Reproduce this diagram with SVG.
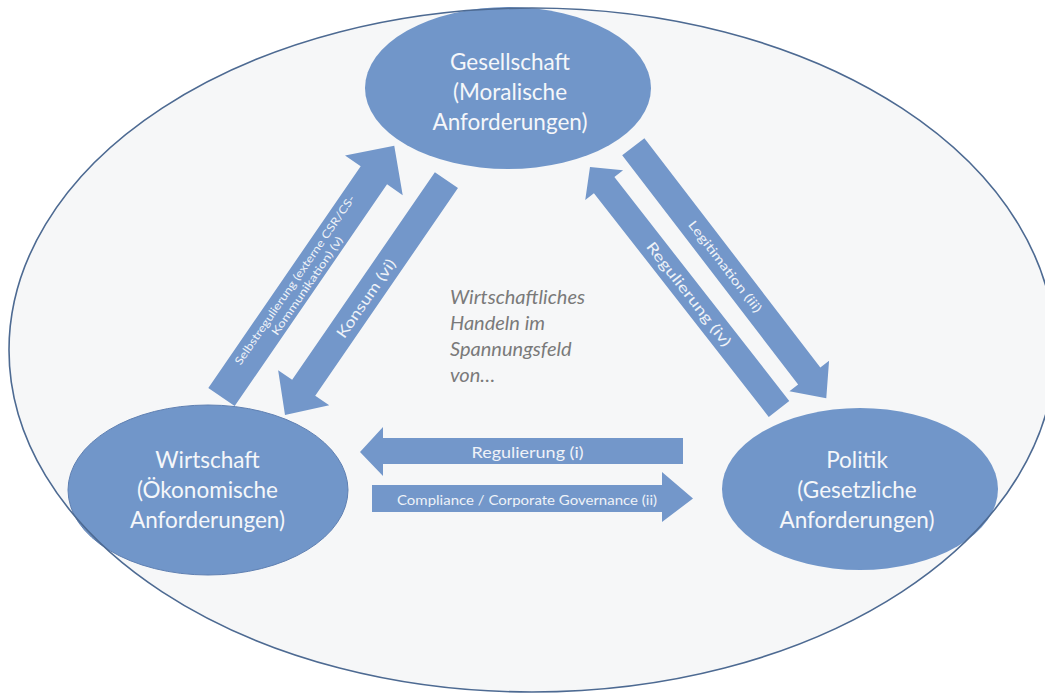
<svg xmlns="http://www.w3.org/2000/svg" width="1045" height="693" viewBox="0 0 1045 693">
  <style>
    .field{fill:#f6f7f8;stroke:none}
    .field-line{fill:none;stroke:#4d6a92;stroke-width:1.6}
    .node{fill:#7196c9}
    .arrow{fill:#7397ca}
    .ntext{font-family:Lato,"Open Sans","Liberation Sans",sans-serif;font-size:22.5px;fill:#f5f7fa;text-anchor:middle}
    .atext{font-family:Lato,"Open Sans","Liberation Sans",sans-serif;fill:#eef2f8;text-anchor:middle}
    .ctext{font-family:Lato,"Open Sans","Liberation Sans",sans-serif;font-style:italic;font-size:20px;fill:#7a7a7a}
  </style>

  <rect width="1045" height="693" fill="#ffffff"/>

  <!-- surrounding field -->
  <g id="field">
    <ellipse class="field" cx="532" cy="350" rx="523" ry="342"/>
  </g>

  <!-- connectors -->
  <g id="connectors">
    <!-- Wirtschaft -> Gesellschaft -->
    <g id="arrow-selbstregulierung" transform="translate(221.5 397) rotate(-55.5)">
      <polygon class="arrow" points="0,-16 269,-16 269,-35 305,0 269,35 269,16 0,16"/>
      <text class="atext" font-size="11" x="138" y="-2" textLength="203" lengthAdjust="spacingAndGlyphs">Selbstregulierung (externe CSR/CS-</text>
      <text class="atext" font-size="11" x="140" y="11.5" textLength="117" lengthAdjust="spacingAndGlyphs">Kommunikation) (v)</text>
    </g>
    <!-- Gesellschaft -> Wirtschaft -->
    <g id="arrow-konsum" transform="translate(285 415) rotate(-55.5)">
      <polygon class="arrow" points="0,0 33,-31 33,-14 285,-14 285,14 33,14 33,31"/>
      <text class="atext" font-size="15" x="142" y="6" textLength="92" lengthAdjust="spacingAndGlyphs">Konsum (vi)</text>
    </g>
    <!-- Gesellschaft -> Politik -->
    <g id="arrow-legitimation" transform="translate(633.3 146.7) rotate(52.5)">
      <polygon class="arrow" points="0,-14 289,-14 289,-25 317,0 289,25 289,14 0,14"/>
      <text class="atext" font-size="12.5" x="151" y="4.5" textLength="112" lengthAdjust="spacingAndGlyphs">Legitimation (iii)</text>
    </g>
    <!-- Politik -> Gesellschaft -->
    <g id="arrow-regulierung-iv" transform="translate(590 167) rotate(52)">
      <polygon class="arrow" points="0,0 23,-24 23,-13 307,-13 307,13 23,13 23,24"/>
      <text class="atext" font-size="14.5" x="161" y="5.5" textLength="128" lengthAdjust="spacingAndGlyphs">Regulierung (iv)</text>
    </g>
    <!-- Politik -> Wirtschaft -->
    <g id="arrow-regulierung-i">
      <polygon class="arrow" points="360,452 383,427 383,438 683,438 683,464 383,464 383,476"/>
      <text class="atext" font-size="15" x="527.5" y="457.5" textLength="112" lengthAdjust="spacingAndGlyphs">Regulierung (i)</text>
    </g>
    <!-- Wirtschaft -> Politik -->
    <g id="arrow-compliance">
      <polygon class="arrow" points="372,485 662,485 662,472 693,498.5 662,522 662,512 372,512"/>
      <text class="atext" font-size="14" x="527" y="504.5" textLength="260" lengthAdjust="spacingAndGlyphs">Compliance / Corporate Governance (ii)</text>
    </g>
  </g>

  <!-- nodes -->
  <g id="node-gesellschaft">
    <ellipse class="node" cx="508" cy="88" rx="143" ry="81"/>
    <text class="ntext" x="510" y="70">Gesellschaft</text>
    <text class="ntext" x="510" y="100">(Moralische</text>
    <text class="ntext" x="510" y="130">Anforderungen)</text>
  </g>

  <g id="node-wirtschaft">
    <ellipse class="node" cx="208" cy="490" rx="140" ry="85" stroke="#5f80b2" stroke-width="1"/>
    <text class="ntext" x="207.5" y="468">Wirtschaft</text>
    <text class="ntext" x="207.5" y="498">(Ökonomische</text>
    <text class="ntext" x="207.5" y="528">Anforderungen)</text>
  </g>

  <g id="node-politik">
    <ellipse class="node" cx="860" cy="489" rx="138" ry="81"/>
    <text class="ntext" x="857" y="468">Politik</text>
    <text class="ntext" x="857" y="498">(Gesetzliche</text>
    <text class="ntext" x="857" y="528">Anforderungen)</text>
  </g>

  <!-- central caption -->
  <g id="caption">
    <text class="ctext" x="450" y="304">Wirtschaftliches</text>
    <text class="ctext" x="450" y="330">Handeln im</text>
    <text class="ctext" x="450" y="356">Spannungsfeld</text>
    <text class="ctext" x="450" y="382">von…</text>
  </g>

  <!-- outline of the field, drawn over everything -->
  <ellipse class="field-line" cx="532" cy="350" rx="523" ry="342"/>
</svg>
